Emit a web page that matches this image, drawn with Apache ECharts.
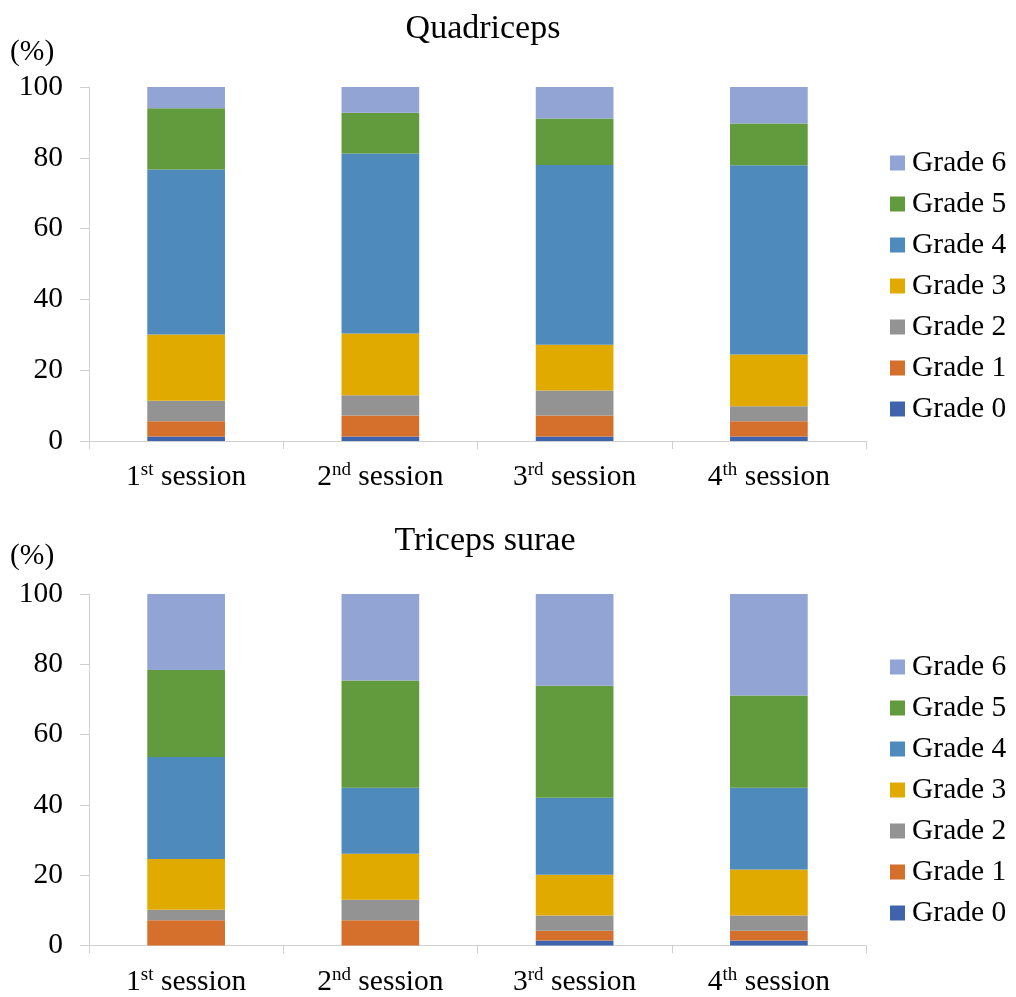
<!DOCTYPE html>
<html>
<head>
<meta charset="utf-8">
<script src="https://cdn.jsdelivr.net/npm/echarts@6/dist/echarts.min.js"></script>
<style>html,body{margin:0;padding:0;background:#fff}#c{width:1016px;height:997px}</style>
</head>
<body>
<div id="c"></div>
<script>
// Categories: ordinal number + superscript suffix
const sessionNums = ['1', '2', '3', '4'];
const sessionSups = ['st', 'nd', 'rd', 'th'];
const categories = ['1st session', '2nd session', '3rd session', '4th session'];
const grades = ['Grade 0', 'Grade 1', 'Grade 2', 'Grade 3', 'Grade 4', 'Grade 5', 'Grade 6'];
const yTicks = [0, 20, 40, 60, 80, 100];

// Quadriceps (%), one array per grade, per session
const quadG0 = [1.3, 1.3, 1.3, 1.3];
const quadG1 = [4.3, 5.9, 5.9, 4.3];
const quadG2 = [5.8, 5.7, 7.1, 4.2];
const quadG3 = [18.7, 17.5, 12.9, 14.6];
const quadG4 = [46.6, 50.8, 50.8, 53.5];
const quadG5 = [17.3, 11.5, 13.1, 11.8];
const quadG6 = [6.0, 7.3, 8.9, 10.3];

// Triceps surae (%)
const triG0 = [0, 0, 1.4, 1.4];
const triG1 = [7.2, 7.2, 2.8, 2.8];
const triG2 = [3.0, 5.8, 4.3, 4.3];
const triG3 = [14.4, 13.1, 11.6, 13.1];
const triG4 = [29.0, 18.8, 21.9, 23.3];
const triG5 = [24.8, 30.5, 31.9, 26.2];
const triG6 = [21.6, 24.6, 26.1, 28.9];

const quadData = [quadG0, quadG1, quadG2, quadG3, quadG4, quadG5, quadG6];
const triData = [triG0, triG1, triG2, triG3, triG4, triG5, triG6];
const colors = ['#4064AC', '#D46F2C', '#939393', '#E1AA00', '#4F8ABC', '#629A3E', '#91A4D4'];

const FONT = "'Liberation Serif', 'Times New Roman', serif";
const FS = 29.5;

function xLabel(v, i) {
  return '{n|' + sessionNums[i] + '}{s|' + sessionSups[i] + '}{n| session}';
}

function makeX(gi) {
  return {
    type: 'category', gridIndex: gi, data: categories,
    axisLine: { lineStyle: { color: '#d0d0d0', width: 1 } },
    axisTick: { show: true, length: 8, lineStyle: { color: '#d0d0d0' } },
    axisLabel: {
      margin: 20, formatter: xLabel, color: '#000',
      rich: {
        n: { fontSize: FS, fontFamily: FONT, color: '#000', lineHeight: 33 },
        s: { fontSize: 19, fontFamily: FONT, color: '#000', verticalAlign: 'top', lineHeight: 21 }
      }
    }
  };
}
function makeY(gi) {
  return {
    type: 'value', gridIndex: gi, min: yTicks[0], max: yTicks[yTicks.length - 1], interval: 20,
    splitLine: { show: false },
    axisLine: { show: true, lineStyle: { color: '#d0d0d0', width: 1 } },
    axisTick: { show: true, length: 9, lineStyle: { color: '#d0d0d0' } },
    axisLabel: { fontSize: FS, fontFamily: FONT, color: '#000', margin: 26 }
  };
}

const series = [];
[quadData, triData].forEach((set, gi) => {
  set.forEach((arr, k) => {
    series.push({
      type: 'bar', name: grades[k], xAxisIndex: gi, yAxisIndex: gi,
      stack: 's' + gi, data: arr, barWidth: '40%',
      itemStyle: { color: colors[k] },
      emphasis: { disabled: true }
    });
  });
});

const legendNames = grades.slice().reverse();
function makeLegend(top) {
  return {
    top: top, left: 890, orient: 'vertical', icon: 'rect', padding: 0,
    itemWidth: 15, itemHeight: 15, itemGap: 11, data: legendNames,
    textStyle: { fontSize: FS, fontFamily: FONT, color: '#000', lineHeight: 29, padding: [0, 0, 0, 2] }
  };
}

const chart = echarts.init(document.getElementById('c'), null, { renderer: 'canvas' });
chart.setOption({
  animation: false,
  title: [
    { text: 'Quadriceps', left: 478, top: 7, textAlign: 'center', textStyle: { fontSize: 34, fontWeight: 'normal', fontFamily: FONT, color: '#000' } },
    { text: 'Triceps surae', left: 480, top: 519, textAlign: 'center', textStyle: { fontSize: 34, fontWeight: 'normal', fontFamily: FONT, color: '#000' } },
    { text: '(%)', left: 5, top: 32, textStyle: { fontSize: FS, fontWeight: 'normal', fontFamily: FONT, color: '#000' } },
    { text: '(%)', left: 5, top: 536, textStyle: { fontSize: FS, fontWeight: 'normal', fontFamily: FONT, color: '#000' } }
  ],
  legend: [makeLegend(148), makeLegend(652)],
  grid: [
    { left: 89, right: 150, top: 87, bottom: 556 },
    { left: 89, right: 150, top: 594, bottom: 50 }
  ],
  xAxis: [makeX(0), makeX(1)],
  yAxis: [makeY(0), makeY(1)],
  series: series
});
</script>
</body>
</html>
